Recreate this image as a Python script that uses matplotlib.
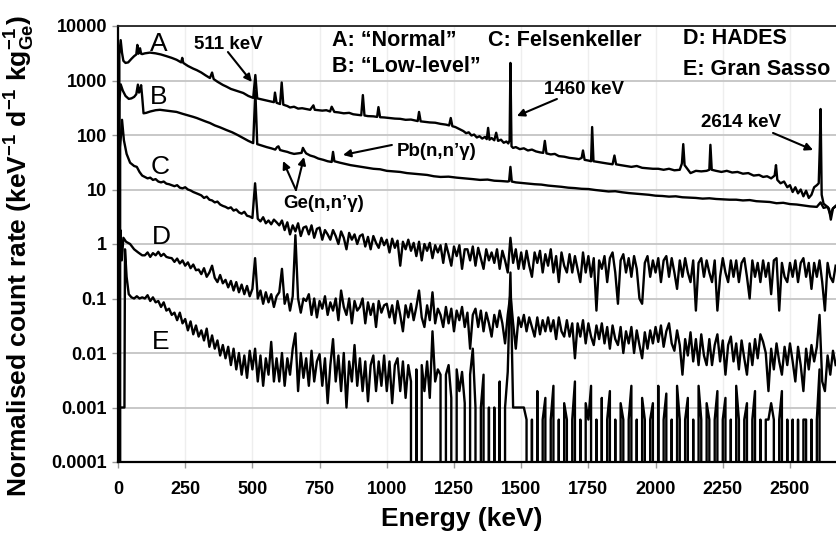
import numpy as np
import matplotlib
matplotlib.use('Agg')
import matplotlib.pyplot as plt
from matplotlib.ticker import NullLocator

plt.rcParams['font.family'] = ['Liberation Sans', 'DejaVu Sans']
plt.rcParams['mathtext.fontset'] = 'custom'
plt.rcParams['mathtext.rm'] = 'Liberation Sans:bold'
plt.rcParams['mathtext.it'] = 'Liberation Sans:bold'
plt.rcParams['mathtext.bf'] = 'Liberation Sans:bold'
plt.rcParams['mathtext.default'] = 'rm'

# ---------------- data (energy in keV, count rate) ----------------
# A: "Normal"
A_E = [0, 5, 10, 15, 20, 28, 38, 50, 60, 68,
       72, 76, 82, 86, 90, 100, 119, 140, 160, 180,
       200, 218, 235, 239, 243, 260, 280, 293, 310, 325,
       342, 350, 356, 370, 390, 404, 420, 440, 466, 485,
       503, 511, 518, 535, 553, 570, 580, 584, 590, 603,
       609, 615, 630, 640, 655, 670, 685, 700, 715, 727,
       732, 745, 760, 775, 789, 795, 805, 820, 840, 860,
       875, 890, 905, 911, 917, 930, 950, 964, 969, 975,
       990, 1010, 1030, 1050, 1070, 1090, 1105, 1115, 1120, 1126,
       1140, 1160, 1180, 1200, 1220, 1232, 1238, 1244, 1255, 1265,
       1275, 1285, 1295, 1305, 1315, 1325, 1335, 1345, 1355, 1365,
       1372, 1377, 1382, 1390, 1400, 1407, 1414, 1425, 1435, 1445,
       1452, 1457, 1460, 1464, 1470, 1480, 1495, 1510, 1525, 1540,
       1555, 1570, 1582, 1588, 1594, 1610, 1625, 1640, 1660, 1680,
       1700, 1715, 1725, 1730, 1736, 1750, 1760, 1764, 1769, 1785,
       1800, 1820, 1840, 1847, 1853, 1870, 1890, 1910, 1930, 1950,
       1970, 1990, 2010, 2030, 2050, 2070, 2090, 2098, 2103, 2108,
       2118, 2130, 2150, 2170, 2190, 2200, 2204, 2209, 2225, 2245,
       2265, 2285, 2305, 2325, 2345, 2365, 2385, 2400, 2415, 2430,
       2443, 2448, 2453, 2465, 2478, 2490, 2500, 2510, 2520, 2530,
       2540, 2550, 2560, 2570, 2580, 2590, 2600, 2607, 2611, 2614,
       2618, 2625, 2635, 2645, 2652, 2660, 2670]
A_V = [0, 3000, 5500, 3200, 2300, 2100, 2150, 2500, 2800, 3000,
       4500, 3100, 3900, 3100, 3050, 3150, 3250, 3150, 3000, 2800,
       2600, 2400, 2150, 2600, 2100, 1850, 1650, 1550, 1400, 1250,
       1110, 1400, 1060, 950, 830, 770, 700, 650, 590, 520,
       480, 1260, 470, 450, 430, 410, 400, 600, 390, 370,
       920, 360, 340, 320, 330, 305, 310, 300, 290, 350,
       290, 285, 280, 285, 270, 330, 265, 260, 250, 255,
       240, 235, 230, 540, 228, 222, 220, 215, 325, 212,
       210, 205, 200, 198, 190, 192, 185, 180, 265, 178,
       175, 170, 168, 160, 155, 150, 205, 145, 140, 132,
       125, 118, 108, 112, 98, 102, 90, 95, 86, 92,
       84, 135, 82, 88, 80, 110, 78, 82, 72, 76,
       70, 80, 2100, 62, 58, 60, 55, 57, 52, 54,
       50, 48, 47, 78, 46, 44, 45, 41, 40, 38,
       37, 36, 38, 52, 35, 34, 33, 140, 33, 32,
       31, 30, 29, 42, 29, 28, 27, 26, 27, 25,
       24.5, 24, 24, 23, 24, 22.5, 23, 30, 68, 28,
       24, 20, 22, 21.5, 22, 23, 66, 23, 22, 21,
       22, 20.5, 21, 19.5, 20, 18, 18.5, 17, 17.5, 16,
       18, 28, 15, 13, 14, 11, 12, 9, 11, 8.5,
       10, 7.5, 9.5, 7, 8, 11, 12, 13, 60, 300,
       8, 5.5, 5, 4.5, 2.8, 4.5, 5]

# B: "Low-level"
B_E = [0, 5, 10, 18, 28, 40, 50, 60, 68, 74,
       78, 82, 86, 90, 95, 105, 120, 140, 156, 180,
       200, 218, 240, 260, 280, 293, 310, 325, 342, 360,
       380, 404, 425, 445, 466, 485, 503, 511, 518, 535,
       553, 570, 585, 592, 597, 603, 615, 630, 640, 655,
       670, 683, 688, 693, 700, 715, 730, 745, 764, 780,
       795, 800, 805, 815, 826, 845, 865, 885, 905, 925,
       950, 975, 1000, 1025, 1050, 1075, 1100, 1125, 1150, 1175,
       1200, 1230, 1260, 1290, 1320, 1347, 1375, 1400, 1425, 1450,
       1455, 1460, 1465, 1480, 1500, 1525, 1550, 1575, 1600, 1625,
       1650, 1675, 1700, 1725, 1750, 1775, 1800, 1825, 1850, 1875,
       1900, 1925, 1950, 1975, 2000, 2025, 2050, 2075, 2100, 2125,
       2150, 2175, 2200, 2225, 2250, 2275, 2300, 2325, 2350, 2375,
       2400, 2425, 2450, 2475, 2500, 2525, 2550, 2575, 2600, 2614,
       2625, 2640, 2650, 2660, 2670]
B_V = [0, 400, 850, 650, 520, 460, 470, 500, 560, 840,
       600, 650, 820, 500, 250, 255, 270, 285, 290, 280,
       272, 265, 245, 230, 215, 205, 190, 178, 166, 150,
       138, 123, 112, 100, 88, 78, 71, 650, 68, 64,
       60, 57, 54, 60, 62, 53, 51, 49, 47, 45,
       46, 47, 58, 52, 46, 42, 40, 37, 35, 33,
       32, 49, 33, 32, 31, 29.5, 28, 27, 26, 25,
       24, 23.5, 22, 21.5, 21, 20, 19.5, 19, 18.5, 17.5,
       17, 17.2, 16.5, 16, 15.5, 15, 15.2, 14.5, 14.3, 14,
       14.2, 26, 14, 13.5, 13.2, 12.8, 12.5, 12.3, 11.8, 11.5,
       11.2, 10.8, 10.6, 10.3, 10.2, 9.8, 9.5, 9.2, 9.3, 8.9,
       8.6, 8.4, 8.2, 8.0, 7.7, 7.6, 7.4, 7.5, 7.2, 7.1,
       7.0, 6.8, 6.9, 6.7, 6.6, 6.5, 6.5, 6.3, 6.4, 6.1,
       6.0, 5.9, 5.6, 5.7, 5.4, 5.3, 5.1, 4.9, 4.8, 5.8,
       4.6, 4.8, 3.5, 4.5, 4.9]

# C, D, E: low-energy points, then 10 keV bins from 100 to 2670 keV
C_low_E = [0, 8, 15, 22, 32, 45, 60, 70, 80, 90]
C_low_V = [0, 60, 190, 80, 45, 31, 27, 26, 21, 18]
C_fine = [
    17, 16, 16.5, 15, 15.5, 14, 13.5, 14, 12.8, 12.5,
    12, 11.5, 12, 10.8, 10.5, 11, 10, 9.6, 9, 8.6,
    8.2, 7.8, 7, 7.4, 6.5, 6.3, 5.8, 6, 5.3, 5,
    4.8, 4.5, 4.7, 4.1, 4.3, 3.8, 3.6, 3.9, 3.3, 3.2,
    3.0, 13, 2.9, 2.6, 3.1, 2.4, 2.7, 2.3, 2.8, 2.5,
    2.2, 2.7, 1.8, 2.5, 1.5, 2.2, 1.7, 2.4, 1.4, 2.0,
    2.1, 1.5, 2.2, 1.3, 1.9, 2.0, 1.2, 1.8, 1.5, 1.2,
    1.8, 1.4, 1.0, 1.7, 1.3, 0.8, 1.6, 1.2, 1.5, 1.0,
    1.4, 1.5, 0.9, 1.35, 0.8, 1.4, 1.05, 0.85, 1.3, 0.95,
    1.2, 0.7, 1.25, 0.85, 1.15, 0.4, 1.1, 0.8, 1.2, 0.75,
    1.05, 0.6, 1.1, 0.5, 1.0, 0.75, 1.05, 0.55, 0.95, 0.7,
    0.95, 0.45, 1.0, 0.65, 0.4, 0.9, 0.6, 0.95, 0.35, 0.8,
    0.8, 0.5, 0.9, 0.4, 0.85, 0.55, 0.35, 0.8, 0.5, 0.7,
    0.45, 0.8, 0.35, 0.75, 0.5, 0.3, 1.3, 0.45, 0.8, 0.35,
    0.7, 0.35, 0.75, 0.4, 0.25, 0.7, 0.45, 0.75, 0.3, 0.65,
    0.4, 0.8, 0.3, 0.6, 0.2, 0.7, 0.4, 0.3, 0.65, 0.3,
    0.6, 0.35, 0.2, 0.7, 0.3, 0.6, 0.25, 0.55, 0.06, 0.5,
    0.35, 0.6, 0.2, 0.55, 0.7, 0.3, 0.08, 0.5, 0.65, 0.3,
    0.55, 0.25, 0.6, 0.35, 0.1, 0.08, 0.45, 0.6, 0.25, 0.5,
    0.3, 0.55, 0.2, 0.5, 0.6, 0.25, 0.55, 0.3, 0.15, 0.5,
    0.25, 0.55, 0.3, 0.2, 0.5, 0.06, 0.45, 0.55, 0.25, 0.5,
    0.3, 0.2, 0.5, 0.06, 0.25, 0.55, 0.3, 0.2, 0.5, 0.25,
    0.5, 0.2, 0.45, 0.55, 0.25, 0.1, 0.5, 0.25, 0.45, 0.2,
    0.5, 0.25, 0.45, 0.12, 0.5, 0.55, 0.06, 0.45, 0.25, 0.2,
    0.45, 0.25, 0.5, 0.2, 0.45, 0.55, 0.25, 0.45, 0.15, 0.45,
    0.25, 0.5, 0.2, 0.06, 0.45, 0.25, 0.2, 0.4]

D_low_E = [0, 6, 9, 14, 20, 30, 45, 60, 75, 90]
D_low_V = [0, 0.3, 1.8, 0.5, 1.3, 1.1, 1.0, 0.8, 0.7, 0.62]
D_fine = [
    0.62, 0.7, 0.58, 0.68, 0.62, 0.72, 0.6, 0.66, 0.58, 0.56,
    0.55, 0.47, 0.54, 0.44, 0.5, 0.4, 0.46, 0.36, 0.42, 0.33,
    0.34, 0.28, 0.36, 0.25, 0.3, 0.4, 0.24, 0.2, 0.27, 0.19,
    0.22, 0.16, 0.21, 0.14, 0.2, 0.13, 0.18, 0.12, 0.17, 0.11,
    0.15, 0.55, 0.1, 0.14, 0.08, 0.13, 0.085, 0.12, 0.07, 0.11,
    0.13, 0.35, 0.08, 0.12, 0.06, 0.11, 1.45, 0.1, 0.055, 0.1,
    0.09, 0.12, 0.05, 0.1, 0.045, 0.09, 0.065, 0.11, 0.05, 0.085,
    0.06, 0.1, 0.04, 0.14, 0.07, 0.05, 0.1, 0.035, 0.09, 0.06,
    0.07, 0.1, 0.035, 0.085, 0.05, 0.08, 0.03, 0.09, 0.055, 0.075,
    0.08, 0.045, 0.075, 0.035, 0.09, 0.05, 0.025, 0.075, 0.045, 0.08,
    0.04, 0.07, 0.14, 0.045, 0.03, 0.075, 0.04, 0.13, 0.035, 0.065,
    0.05, 0.03, 0.07, 0.035, 0.065, 0.025, 0.06, 0.04, 0.07, 0.03,
    0.055, 0.012, 0.05, 0.065, 0.03, 0.06, 0.025, 0.055, 0.035, 0.02,
    0.05, 0.03, 0.06, 0.035, 0.015, 0.05, 0.12, 0.035, 0.012, 0.045,
    0.03, 0.05, 0.025, 0.045, 0.03, 0.02, 0.045, 0.022, 0.04, 0.025,
    0.045, 0.025, 0.04, 0.018, 0.045, 0.025, 0.02, 0.04, 0.02, 0.035,
    0.008, 0.035, 0.02, 0.04, 0.015, 0.035, 0.02, 0.014, 0.032, 0.018,
    0.035, 0.015, 0.03, 0.012, 0.032, 0.018, 0.014, 0.03, 0.01, 0.025,
    0.015, 0.03, 0.01, 0.026, 0.014, 0.008, 0.024, 0.012, 0.026, 0.015,
    0.03, 0.016, 0.032, 0.013, 0.025, 0.035, 0.015, 0.011, 0.026, 0.014,
    0.004, 0.018, 0.009, 0.024, 0.007, 0.018, 0.006, 0.022, 0.009, 0.006,
    0.018, 0.006, 0.014, 0.022, 0.007, 0.017, 0.004, 0.014, 0.02, 0.007,
    0.015, 0.005, 0.017, 0.008, 0.004, 0.015, 0.006, 0.018, 0.008, 0.022,
    0.016, 0.01, 0.002, 0.012, 0.005, 0.015, 0.007, 0.004, 0.013, 0.006,
    0.015, 0.007, 0.003, 0.013, 0.006, 0.002, 0.012, 0.005, 0.014, 0.007,
    0.013, 0.05, 0.003, 0.002, 0.009, 0.004, 0.011, 0.006]

E_low_E = [0, 6, 7, 24, 26, 32, 40, 50, 60, 70, 80, 90]
E_low_V = [0, 0, 0.001, 0.001, 0.8, 0.25, 0.12, 0.105, 0.1, 0.11, 0.1, 0.105]
E_fine = [
    0.1, 0.115, 0.09, 0.105, 0.085, 0.09, 0.07, 0.085, 0.06, 0.065,
    0.05, 0.055, 0.04, 0.055, 0.035, 0.042, 0.026, 0.038, 0.022, 0.032,
    0.02, 0.026, 0.017, 0.028, 0.013, 0.021, 0.012, 0.017, 0.009, 0.014,
    0.008, 0.013, 0.006, 0.012, 0.005, 0.01, 0.004, 0.009, 0.0035, 0.011,
    0.005, 0.012, 0.003, 0.009, 0.0025, 0.008, 0.004, 0.016, 0.003, 0.008,
    0.003, 0.01, 0.0025, 0.008, 0.004, 0.012, 0.023, 0.002, 0.01, 0.0035,
    0.008, 0.0025, 0.011, 0.003, 0.007, 0.0095, 0.0025, 0.008, 0.0012, 0.006,
    0.018, 0.003, 0.009, 0.002, 0.01, 0.001, 0.007, 0.003, 0.014, 0.0025,
    0.008, 0.002, 0.007, 0.0013, 0.006, 0.009, 0.002, 0.007, 0.0025, 0.009,
    0.002, 0.007, 0.0012, 0.006, 0.008, 0.002, 0.007, 0.0015, 0.006, 0.003,
    0, 0.005, 0, 0.006, 0.002, 0.007, 0.0015, 0.025, 0.003, 0.005,
    0.004, 0, 0.004, 0.006, 0.0015, 0, 0.005, 0.002, 0.0045, 0.0012,
    0, 0.004, 0.012, 0.001, 0, 0.001, 0.004, 0, 0.001, 0,
    0.001, 0, 0.003, 0, 0.001, 0.0045, 0.3, 0.001, 0.001, 0.001,
    0.001, 0.001, 0.0006, 0, 0.0006, 0, 0.002, 0, 0.0006, 0.0015,
    0, 0.0006, 0.0025, 0, 0.0006, 0, 0.0012, 0.0006, 0, 0.0006,
    0.003, 0, 0.0006, 0, 0.0012, 0.0006, 0.0025, 0, 0.0006, 0,
    0.0015, 0, 0.0006, 0.002, 0, 0.0006, 0, 0.0012, 0.0006, 0,
    0.0006, 0.0025, 0, 0.0006, 0, 0.0015, 0.0006, 0, 0.0006, 0.0012,
    0, 0.0025, 0, 0.0006, 0.0018, 0, 0.0006, 0, 0.0025, 0.0006,
    0, 0.0006, 0.0015, 0, 0.0006, 0, 0.0025, 0.0006, 0, 0.0012,
    0.0006, 0, 0.0006, 0.002, 0, 0.0006, 0.0015, 0, 0.0006, 0,
    0.0025, 0.0006, 0, 0.0006, 0.0012, 0, 0.0006, 0.002, 0, 0.0006,
    0, 0.0006, 0.0006, 0.0012, 0.0006, 0, 0.0006, 0.002, 0, 0.0006,
    0, 0.0006, 0, 0.0006, 0, 0.0006, 0.0006, 0, 0.0006, 0,
    0.0006, 0.005, 0, 0, 0, 0, 0, 0]

y_ticks = [1e-4, 1e-3, 1e-2, 1e-1, 1, 10, 100, 1000, 10000]
y_ticklabels = ['0.0001', '0.001', '0.01', '0.1', '1', '10', '100', '1000', '10000']
x_ticks = [0, 250, 500, 750, 1000, 1250, 1500, 1750, 2000, 2250, 2500]

series_letters = ['A', 'B', 'C', 'D', 'E']
legend_texts = ['A: \u201cNormal\u201d', 'B: \u201cLow-level\u201d', 'C: Felsenkeller',
                'D: HADES', 'E: Gran Sasso']

# ---------------- build series ----------------
fine_E = np.arange(100, 2671, 10)
assert len(A_E) == len(A_V), (len(A_E), len(A_V))
assert len(B_E) == len(B_V), (len(B_E), len(B_V))
assert len(C_fine) == len(fine_E), len(C_fine)
assert len(D_fine) == len(fine_E), len(D_fine)
assert len(E_fine) == len(fine_E), len(E_fine)

series = [
    (np.array(A_E), np.array(A_V)),
    (np.array(B_E), np.array(B_V)),
    (np.concatenate([C_low_E, fine_E]), np.concatenate([C_low_V, C_fine])),
    (np.concatenate([D_low_E, fine_E]), np.concatenate([D_low_V, D_fine])),
    (np.concatenate([E_low_E, fine_E]), np.concatenate([E_low_V, E_fine])),
]

# ---------------- figure ----------------
W, H = 837, 535
fig = plt.figure(figsize=(W / 100, H / 100), dpi=100)
ax = fig.add_axes([118 / W, 1 - 462 / H, (W - 118) / W, (462 - 26) / H])
ax.set_yscale('log', nonpositive='clip')
ax.set_xlim(0, 2675)
ax.set_ylim(1e-4, 1e4)

ax.set_axisbelow(True)
ax.yaxis.grid(True, color='#c4c4c4', lw=1.3)
ax.xaxis.grid(True, color='#eeeeee', lw=1.0)

for xs, ys in series:
    ax.plot(xs, ys, color='black', lw=1.7)

ax.set_yticks(y_ticks)
ax.set_yticklabels(y_ticklabels, fontweight='bold')
ax.yaxis.set_minor_locator(NullLocator())
ax.set_xticks(x_ticks)
ax.set_xticklabels([str(t) for t in x_ticks], fontweight='bold')
ax.tick_params(axis='both', which='major', color='#9a9a9a', length=4,
               width=1, labelsize=13, direction='out')
ax.tick_params(axis='x', pad=10)
ax.tick_params(axis='y', pad=4)

for s in ['left', 'bottom']:
    ax.spines[s].set_linewidth(1.6)
    ax.spines[s].set_color('black')
ax.spines['top'].set_linewidth(1.3)
ax.spines['top'].set_color('#222222')
ax.spines['right'].set_visible(False)

# series letters
letter_pos = [(151, 4660), (151, 508), (156, 26), (160, 1.32), (158, 0.0159)]
for lt, (ex, vy) in zip(series_letters, letter_pos):
    ax.text(ex, vy, lt, fontsize=19, ha='center', va='center')

# legend-like labels
legend_pos = [(796, 5310), (796, 1845), (1376, 5420), (2102, 5900), (2102, 1560)]
for txt, (ex, vy) in zip(legend_texts, legend_pos):
    ax.text(ex, vy, txt, fontsize=15.5, fontweight='bold', ha='left', va='center')

# peak annotations
arrow_kw = dict(arrowstyle='-|>', color='black', lw=1.5, mutation_scale=11,
                shrinkA=0, shrinkB=0)
ann_fs = 13.5
ax.text(409, 4660, '511 keV', fontsize=ann_fs, fontweight='bold', ha='center', va='center')
ax.annotate('', xy=(498, 940), xytext=(409, 3330), arrowprops=arrow_kw)

ax.text(1734, 670, '1460 keV', fontsize=ann_fs, fontweight='bold', ha='center', va='center')
ax.annotate('', xy=(1484, 223), xytext=(1633, 458), arrowprops=arrow_kw)

ax.text(2318, 173, '2614 keV', fontsize=ann_fs, fontweight='bold', ha='center', va='center')
ax.annotate('', xy=(2586, 53), xytext=(2437, 109), arrowprops=arrow_kw)

ax.text(1187, 50.8, 'Pb(n,n\u2019\u03b3)', fontsize=ann_fs, fontweight='bold',
        ha='center', va='center')
ax.annotate('', xy=(837, 43), xytext=(1019, 65.6), arrowprops=arrow_kw)

ax.text(766, 5.42, 'Ge(n,n\u2019\u03b3)', fontsize=ann_fs, fontweight='bold',
        ha='center', va='center')
ax.annotate('', xy=(614, 33.3), xytext=(662, 9.8), arrowprops=arrow_kw)
ax.annotate('', xy=(692, 39.5), xytext=(662, 9.8), arrowprops=arrow_kw)

# axis titles
fig.text(20 / W, 1 - 256 / H,
         r'Normalised count rate (keV$^{-1}$ d$^{-1}$ kg$_{Ge}^{-1}$)',
         rotation=90, ha='center', va='center', fontsize=19, fontweight='bold')
fig.text(462 / W, 1 - 519 / H, 'Energy (keV)', ha='center', va='center',
         fontsize=19, fontweight='bold')

fig.savefig('out.png', dpi=100)
